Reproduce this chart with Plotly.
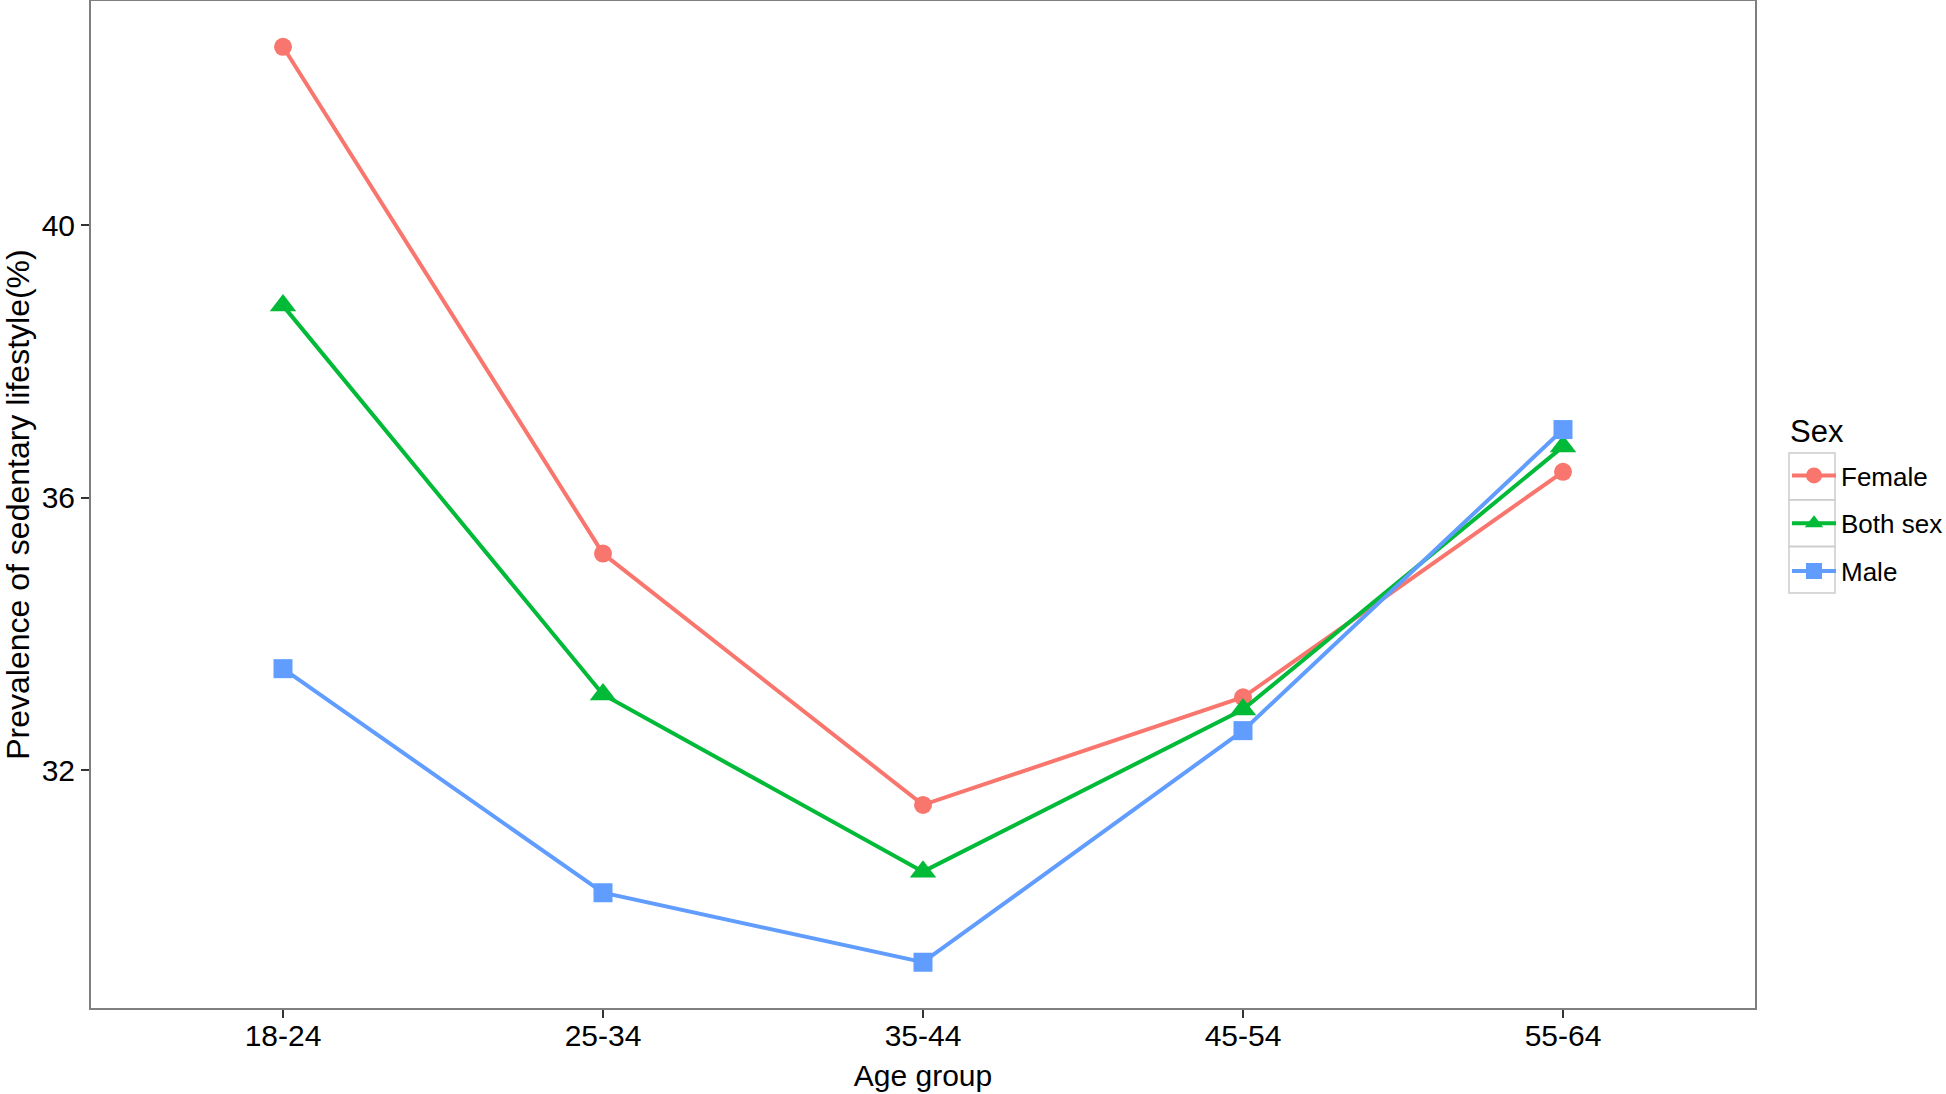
import plotly.graph_objects as go

age_groups = ["18-24", "25-34", "35-44", "45-54", "55-64"]
female = [42.62, 35.18, 31.49, 33.07, 36.38]
both_sex = [38.82, 33.11, 30.51, 32.89, 36.75]
male = [33.49, 30.20, 29.18, 32.58, 37.00]

series_names = ["Female", "Both sex", "Male"]
series_values = [female, both_sex, male]
colors = ["#F8766D", "#00BA38", "#619CFF"]
symbols = ["circle", "triangle-up", "square"]
sizes = [18, 23, 19]

y_ticks = [32, 36, 40]

W, H = 1946, 1094
L, R, T, B = 91, 1755, 1, 1008

fig = go.Figure()
for i, (name, vals) in enumerate(zip(series_names, series_values)):
    fig.add_trace(go.Scatter(
        x=list(range(len(age_groups))), y=vals, name=name,
        mode="lines+markers", legendgroup=name,
        line=dict(color=colors[i], width=4),
        marker=dict(symbol=symbols[i], size=sizes[i], color=colors[i], line=dict(width=0)),
    ))

dmin = min(min(v) for v in series_values)
dmax = max(max(v) for v in series_values)
pad = (dmax - dmin) * 0.05

def px_x(p):
    return (p - L) / (R - L)

def px_y(p):
    return (B - p) / (B - T)

# legend key boxes (ggplot-style)
box_left, box_right, box_top, box_h = 1789, 1835, 453, 46.7
shapes = []
for k in range(len(series_names)):
    shapes.append(dict(
        type="rect", xref="paper", yref="paper",
        x0=px_x(box_left), x1=px_x(box_right),
        y0=px_y(box_top + k * box_h), y1=px_y(box_top + (k + 1) * box_h),
        line=dict(color="#CCCCCC", width=1.5), fillcolor="rgba(0,0,0,0)", layer="below",
    ))

FONT = "Liberation Sans, Arial, sans-serif"
fig.update_layout(
    width=W, height=H,
    margin=dict(l=L, r=W - R, t=T, b=H - B, autoexpand=False),
    paper_bgcolor="white", plot_bgcolor="white",
    font=dict(family=FONT, color="black", size=30),
    showlegend=True,
    shapes=shapes,
    annotations=[dict(
        text="Sex", xref="paper", yref="paper", x=px_x(1788), y=px_y(431),
        xanchor="left", yanchor="middle", showarrow=False, font=dict(size=31),
    )],
    legend=dict(
        font=dict(size=26),
        x=px_x(1787), xanchor="left",
        y=px_y(452), yanchor="top",
        tracegroupgap=11, itemwidth=44,
        bgcolor="rgba(0,0,0,0)",
    ),
    xaxis=dict(
        tickmode="array", tickvals=list(range(len(age_groups))), ticktext=age_groups,
        range=[-0.6, len(age_groups) - 1 + 0.6],
        showgrid=False, zeroline=False,
        showline=True, linecolor="#7F7F7F", linewidth=2, mirror=True,
        ticks="outside", ticklen=8, tickwidth=2, tickcolor="#333333",
        tickfont=dict(size=30, color="black"), ticklabelstandoff=-8,
        title=dict(text="Age group", font=dict(size=30), standoff=14),
    ),
    yaxis=dict(
        tickmode="array", tickvals=y_ticks, ticktext=[str(t) for t in y_ticks],
        range=[dmin - pad, dmax + pad],
        showgrid=False, zeroline=False,
        showline=True, linecolor="#7F7F7F", linewidth=2, mirror=True,
        ticks="outside", ticklen=8, tickwidth=2, tickcolor="#333333",
        tickfont=dict(size=30, color="black"),
        title=dict(text="Prevalence of sedentary lifestyle(%)", font=dict(size=32), standoff=11),
    ),
)

fig.write_html("out.html", config={"displayModeBar": False},
               post_script="document.body.style.margin='0';")
